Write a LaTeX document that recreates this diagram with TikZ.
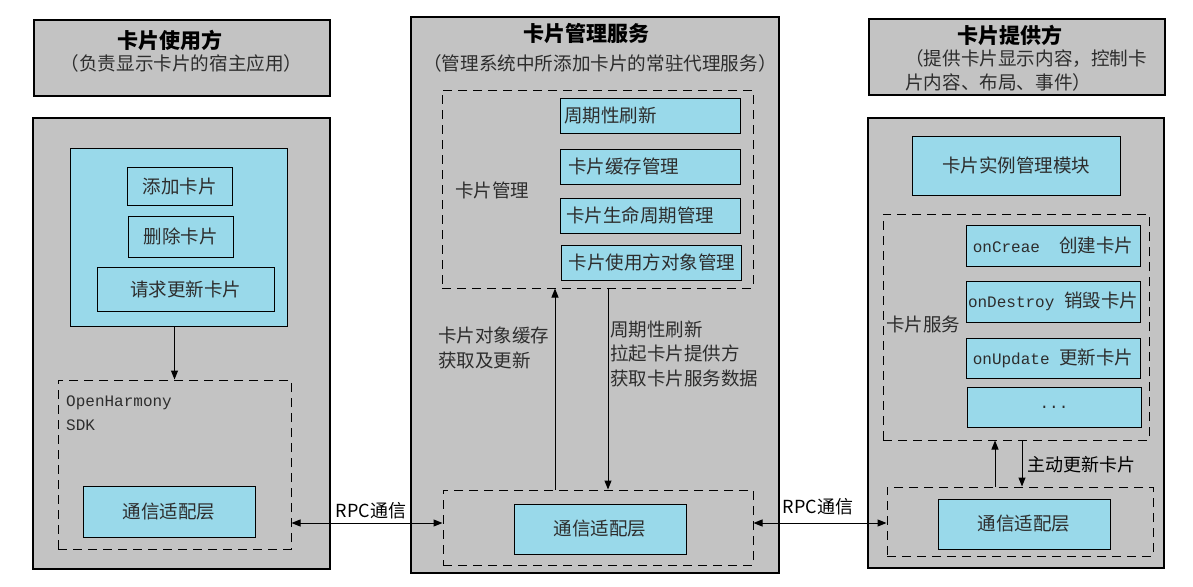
\documentclass[tikz,border=0pt]{standalone}
\usepackage{fontspec}
\setmainfont{Noto Sans CJK SC}
\setmonofont{Liberation Mono}
\usetikzlibrary{arrows.meta}
\definecolor{gfill}{RGB}{195,195,195}
\definecolor{bfill}{RGB}{153,217,234}
\definecolor{txt}{RGB}{45,45,45}
\begin{document}
\begin{tikzpicture}[x=1pt,y=-1pt,
  panel/.style={draw=black, fill=gfill, line width=1.2pt, inner sep=0pt},
  bluebox/.style={draw=black, fill=bfill, line width=1pt, text=txt, inner sep=0pt, font=\fontsize{18.5}{22}\selectfont},
  leftblue/.style={bluebox, text width=172pt, inner xsep=4pt, align=left},
  dbox/.style={draw=black, dash pattern=on 9pt off 6pt, line width=1pt, inner sep=0pt},
  ttl/.style={inner sep=0pt, font=\fontsize{21}{24}\selectfont\bfseries},
  sub/.style={inner sep=0pt, text=txt, font=\fontsize{18.6}{24}\selectfont},
  lbl/.style={inner sep=0pt, text=txt, align=left, font=\fontsize{18.5}{25}\selectfont},
  arr/.style={-{Triangle[length=9pt,width=7pt]}, line width=1pt},
  darr/.style={{Triangle[length=9pt,width=7pt]}-{Triangle[length=9pt,width=7pt]}, line width=1pt},
  mono/.style={font=\fontsize{16}{20}\selectfont\ttfamily}
]
\useasboundingbox (0,0) rectangle (1193,586);

% ---------- left column ----------
\node[panel, minimum width=296pt, minimum height=76pt] (L0) at (182,58) {};
\node[ttl] (Lt) at (170,40) {卡片使用方};
\node[sub] (Ls) at (181.5,63) {（负责显示卡片的宿主应用）};

\node[panel, minimum width=297pt, minimum height=451pt] (L1) at (181.5,343.5) {};
\node[bluebox, minimum width=217pt, minimum height=178pt] (LB) at (178.5,237) {};
\node[bluebox, minimum width=105pt, minimum height=38pt] (A1) at (179.5,186) {添加卡片};
\node[bluebox, minimum width=105pt, minimum height=41pt] (A2) at (180.5,236.5) {删除卡片};
\node[bluebox, minimum width=177pt, minimum height=44pt] (A3) at (185.5,289) {请求更新卡片};
\node[dbox, minimum width=233pt, minimum height=169pt] (LD) at (174.5,464.5) {};
\node[inner sep=0pt, text=txt, align=left, font=\fontsize{16}{24.5}\selectfont\ttfamily, anchor=west] (Lsdk) at (66,413) {OpenHarmony\\SDK};
\node[bluebox, minimum width=172pt, minimum height=51pt] (LC) at (169,511.5) {通信适配层};
\draw[arr] (LB.south -| LD.north) -- (LD.north);

% ---------- middle column ----------
\node[panel, minimum width=368pt, minimum height=556pt] (M1) at (595,295) {};
\node[ttl] (Mt) at (586,33) {卡片管理服务};
\node[sub] (Ms) at (600,63) {（管理系统中所添加卡片的常驻代理服务）};
\node[dbox, minimum width=311pt, minimum height=198pt] (MD) at (597.5,189) {};
\node[lbl, anchor=west] (Mk) at (455,190) {卡片管理};
\node[leftblue, minimum height=35pt] (B1) at (650,115.5) {周期性刷新};
\node[leftblue, minimum height=35pt] (B2) at (650,166.5) {\hspace{4pt}卡片缓存管理};
\node[leftblue, minimum height=35pt] (B3) at (650,215.5) {\hspace{2pt}卡片生命周期管理};
\node[leftblue, minimum height=35pt] (B4) at (651.5,262.5) {\hspace{3pt}卡片使用方对象管理};
\node[dbox, minimum width=310pt, minimum height=75pt] (MB) at (598,527.5) {};
\node[bluebox, minimum width=172pt, minimum height=50pt] (MC) at (600,529) {通信适配层};
\coordinate (xu) at (555,0);
\coordinate (xd) at (608,0);
\draw[arr] (MB.north -| xu) -- (MD.south -| xu);
\draw[arr] (MD.south -| xd) -- (MB.north -| xd);
\node[lbl, anchor=west] (Mu) at (438,348) {卡片对象缓存\\获取及更新};
\node[lbl, anchor=west, font=\fontsize{18.5}{24.5}\selectfont] (Md) at (610,353.5) {周期性刷新\\拉起卡片提供方\\获取卡片服务数据};

% ---------- right column ----------
\node[panel, minimum width=296pt, minimum height=76pt] (R0) at (1017,57) {};
\node[ttl] (Rt) at (1010,35) {卡片提供方};
\node[sub, align=left, anchor=west] (Rs) at (905,70) {（提供卡片显示内容，控制卡\\片内容、布局、事件）};
\node[panel, minimum width=296pt, minimum height=450pt] (R1) at (1016,343) {};
\node[bluebox, minimum width=208pt, minimum height=59pt] (RM) at (1016,165.5) {卡片实例管理模块};
\node[dbox, minimum width=266pt, minimum height=226pt] (RD) at (1016,327) {};
\node[lbl, anchor=west] (Rk) at (886,324) {卡片服务};
\node[bluebox, minimum width=174pt, minimum height=41pt] (S1) at (1053,245.5) {{\ttfamily\fontsize{16}{20}\selectfont onCreae\ \ }创建卡片};
\node[bluebox, minimum width=174pt, minimum height=41pt] (S2) at (1053,301.5) {{\ttfamily\fontsize{16}{20}\selectfont onDestroy }销毁卡片};
\node[bluebox, minimum width=174pt, minimum height=40pt] (S3) at (1053,358) {{\ttfamily\fontsize{16}{20}\selectfont onUpdate }更新卡片};
\node[bluebox, minimum width=174pt, minimum height=40pt] (S4) at (1054,407) {\ttfamily\fontsize{16}{20}\selectfont ...};
\node[dbox, minimum width=266pt, minimum height=69pt] (RB) at (1020,521.5) {};
\node[bluebox, minimum width=172pt, minimum height=50pt] (RC) at (1024,524) {通信适配层};
\coordinate (xu2) at (995,0);
\coordinate (xd2) at (1022,0);
\draw[arr] (RB.north -| xu2) -- (RD.south -| xu2);
\draw[arr] (RD.south -| xd2) -- (RB.north -| xd2);
\node[inner sep=0pt, anchor=west, font=\fontsize{18}{22}\selectfont] (Ra) at (1027,465) {主动更新卡片};

% ---------- RPC links ----------
\coordinate (ry) at (0,523);
\draw[darr] (LD.east |- ry) -- (MB.west |- ry);
\node[inner sep=0pt, font=\fontsize{18}{20}\selectfont] (rpc1) at (371,511) {RPC通信};
\draw[darr] (MB.east |- ry) -- (RB.west |- ry);
\node[inner sep=0pt, font=\fontsize{18}{20}\selectfont] (rpc2) at (818,507) {RPC通信};
\end{tikzpicture}
\end{document}
